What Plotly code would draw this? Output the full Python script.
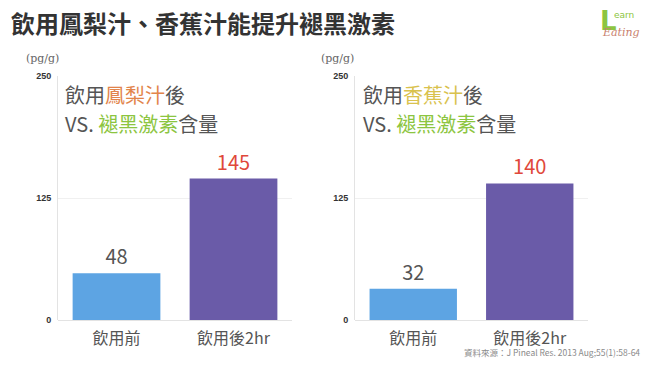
import plotly.graph_objects as go

categories = ["飲用前", "飲用後2hr"]
pineapple_values = [48, 145]
banana_values = [32, 140]
y_ticks = [0, 125, 250]
y_tick_labels = ["0", "125", "250"]

# the page body keeps an 8px margin on every side: make the figure fit inside it
OFF = 8
W, H = 650 - 2 * OFF, 368 - 2 * OFF
def px(x): return (x - OFF) / W
def py(y): return 1 - (y - OFF) / H

CJK = "Noto Sans CJK TC"
bar_colors = ["#5DA4E3", "#6A5BA8"]
label_colors = ["#555555", "#E0483A"]

fig = go.Figure()
fig.add_trace(go.Bar(x=categories, y=pineapple_values, marker=dict(color=bar_colors, line=dict(width=0)),
                     text=[str(v) for v in pineapple_values], textposition="outside",
                     textfont=dict(size=20, color=label_colors, family=CJK),
                     cliponaxis=False, xaxis="x", yaxis="y", hoverinfo="skip"))
fig.add_trace(go.Bar(x=categories, y=banana_values, marker=dict(color=bar_colors, line=dict(width=0)),
                     text=[str(v) for v in banana_values], textposition="outside",
                     textfont=dict(size=20, color=label_colors, family=CJK),
                     cliponaxis=False, xaxis="x2", yaxis="y2", hoverinfo="skip"))

ydom = [py(324), py(73)]
common_x = dict(showgrid=False, showline=False, zeroline=False, ticks="outside", ticklen=4,
                tickcolor="rgba(0,0,0,0)", tickfont=dict(size=16, color="#555555", family=CJK))
common_y = dict(range=[0, 250], tickvals=y_ticks, ticktext=[f"<b>{t}</b>" for t in y_tick_labels],
                showgrid=True, gridcolor="#F0F0F0", gridwidth=1, showline=True, linecolor="#E3E3E3",
                linewidth=1, zeroline=True, zerolinecolor="#E3E3E3", zerolinewidth=1,
                tickfont=dict(size=9, color="#333333", family="Liberation Sans"),
                ticks="", ticklabelstandoff=4)
fig.update_layout(
    width=W, height=H, margin=dict(l=0, r=0, t=0, b=0),
    paper_bgcolor="white", plot_bgcolor="white", showlegend=False, bargap=0.25,
    xaxis=dict(domain=[px(58), px(292)], anchor="y", **common_x),
    yaxis=dict(domain=ydom, anchor="x", **common_y),
    xaxis2=dict(domain=[px(355), px(588)], anchor="y2", **common_x),
    yaxis2=dict(domain=ydom, anchor="x2", **common_y),
)

ann = []
ann.append(dict(text="<b>飲用鳳梨汁、香蕉汁能提升褪黑激素</b>", x=px(9), y=py(18), xanchor="left", yanchor="middle",
                font=dict(size=24, color="#333333", family=CJK)))
for x0 in (24, 319):
    ann.append(dict(text="(pg/g)", x=px(x0), y=py(55), xanchor="left", yanchor="middle",
                    font=dict(size=11, color="#666666", family="DejaVu Serif")))
green = "#8CC540"
gray = "#555555"
ann.append(dict(text="飲用<span style='color:#E2844A'>鳳梨汁</span>後", x=px(63), y=py(92),
                xanchor="left", yanchor="middle", font=dict(size=20, color=gray, family=CJK)))
ann.append(dict(text=f"VS. <span style='color:{green}'>褪黑激素</span>含量", x=px(63), y=py(122),
                xanchor="left", yanchor="middle", font=dict(size=20, color=gray, family=CJK)))
ann.append(dict(text="飲用<span style='color:#D9C24E'>香蕉汁</span>後", x=px(361), y=py(92),
                xanchor="left", yanchor="middle", font=dict(size=20, color=gray, family=CJK)))
ann.append(dict(text=f"VS. <span style='color:{green}'>褪黑激素</span>含量", x=px(361), y=py(122),
                xanchor="left", yanchor="middle", font=dict(size=20, color=gray, family=CJK)))
ann.append(dict(text="資料來源：J Pineal Res. 2013 Aug;55(1):58-64", x=px(642), y=py(357),
                xanchor="right", yanchor="middle", font=dict(size=8.5, color="#8A8A8A", family=CJK)))
# logo
ann.append(dict(text="<b>L</b>", x=px(598), y=py(16), xanchor="left", yanchor="middle",
                font=dict(size=26, color=green, family="DejaVu Sans")))
ann.append(dict(text="earn", x=px(612), y=py(10), xanchor="left", yanchor="middle",
                font=dict(size=9, color=green, family="DejaVu Sans")))
ann.append(dict(text="<i>Eating</i>", x=px(642), y=py(28), xanchor="right", yanchor="middle",
                font=dict(size=11, color="#C97F6E", family="DejaVu Serif")))
for a in ann:
    a.update(xref="paper", yref="paper", showarrow=False)
fig.update_layout(annotations=ann)

fig.write_html("out.html")
